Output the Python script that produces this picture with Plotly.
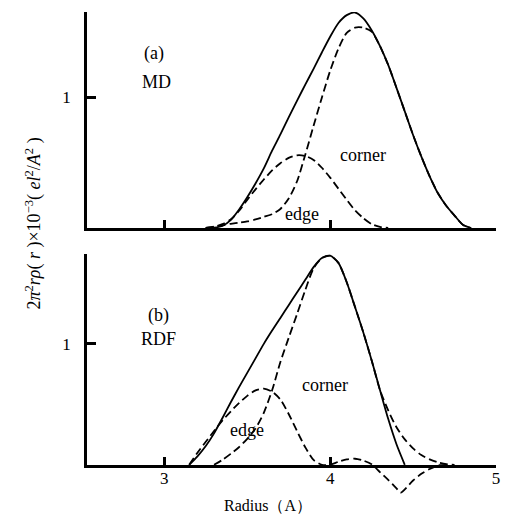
import plotly.graph_objects as go

# ---------------- data ----------------
X_TICKS = [3, 4, 5]
Y_TICKS = [1]

# (a) MD
md_total_x = [3.25, 3.30, 3.35, 3.40, 3.45, 3.50, 3.55, 3.60, 3.65, 3.70, 3.75, 3.80, 3.85, 3.90, 3.95, 4.00,
              4.05, 4.10, 4.15, 4.20, 4.25, 4.30, 4.35, 4.40, 4.45, 4.50, 4.55, 4.60, 4.65, 4.70, 4.75, 4.80, 4.85]
md_total_y = [0.0, 0.003, 0.015, 0.06, 0.14, 0.235, 0.34, 0.455, 0.59, 0.715, 0.845, 0.97, 1.095, 1.215, 1.34, 1.46,
              1.565, 1.625, 1.645, 1.60, 1.51, 1.39, 1.245, 1.07, 0.89, 0.71, 0.545, 0.395, 0.265, 0.17, 0.095, 0.025, 0.0]

md_corner_x = [3.25, 3.30, 3.35, 3.40, 3.45, 3.50, 3.55, 3.60, 3.65, 3.70, 3.75, 3.80, 3.85, 3.90, 3.95, 4.00,
               4.05, 4.10, 4.15, 4.20, 4.25, 4.30, 4.35, 4.40, 4.45, 4.50, 4.55, 4.60, 4.65, 4.70, 4.75, 4.80, 4.85]
md_corner_y = [0.0, 0.008, 0.02, 0.032, 0.04, 0.05, 0.065, 0.085, 0.105, 0.145, 0.225, 0.355, 0.56, 0.78, 0.995, 1.2,
               1.37, 1.49, 1.53, 1.53, 1.50, 1.39, 1.245, 1.07, 0.89, 0.71, 0.545, 0.395, 0.265, 0.17, 0.095, 0.025, 0.0]

md_edge_x = [3.25, 3.30, 3.35, 3.40, 3.45, 3.50, 3.55, 3.60, 3.65, 3.70, 3.75, 3.80, 3.85, 3.90, 3.95, 4.00,
             4.05, 4.10, 4.15, 4.20, 4.25, 4.30, 4.35]
md_edge_y = [0.0, 0.01, 0.03, 0.065, 0.13, 0.215, 0.295, 0.37, 0.44, 0.495, 0.535, 0.555, 0.55, 0.52, 0.46, 0.385,
             0.30, 0.215, 0.135, 0.075, 0.03, 0.008, 0.0]

# (b) RDF
rdf_total_x = [3.15, 3.20, 3.25, 3.30, 3.35, 3.40, 3.45, 3.50, 3.55, 3.60, 3.65, 3.70, 3.75, 3.80, 3.85, 3.90,
               3.95, 4.00, 4.05, 4.10, 4.15, 4.20, 4.25, 4.30, 4.35, 4.40, 4.45]
rdf_total_y = [0.0, 0.07, 0.155, 0.26, 0.385, 0.515, 0.64, 0.76, 0.88, 1.0, 1.11, 1.215, 1.32, 1.425, 1.53, 1.635,
               1.71, 1.73, 1.67, 1.51, 1.305, 1.095, 0.865, 0.62, 0.38, 0.17, 0.0]

rdf_corner_x = [3.30, 3.35, 3.40, 3.45, 3.50, 3.55, 3.60, 3.65, 3.70, 3.75, 3.80, 3.85, 3.90, 3.95, 4.00,
                4.05, 4.10, 4.15, 4.20, 4.25, 4.30, 4.35, 4.40, 4.45, 4.50, 4.55, 4.60, 4.65, 4.70, 4.75]
rdf_corner_y = [0.0, 0.04, 0.09, 0.145, 0.215, 0.30, 0.43, 0.616, 0.85, 1.05, 1.245, 1.445, 1.625, 1.71, 1.73,
                1.67, 1.51, 1.305, 1.095, 0.865, 0.62, 0.45, 0.31, 0.21, 0.135, 0.08, 0.045, 0.02, 0.005, 0.0]

rdf_edge_x = [3.15, 3.20, 3.25, 3.30, 3.35, 3.40, 3.45, 3.50, 3.55, 3.60, 3.65, 3.70, 3.75, 3.80, 3.85, 3.90,
              3.95, 4.00, 4.05, 4.10, 4.15, 4.20, 4.25, 4.30, 4.35, 4.40, 4.425, 4.50, 4.55, 4.60, 4.65, 4.70]
rdf_edge_y = [0.0, 0.10, 0.19, 0.28, 0.365, 0.44, 0.51, 0.57, 0.615, 0.63, 0.605, 0.54, 0.42, 0.28, 0.145, 0.04,
              0.0, 0.0, 0.025, 0.045, 0.05, 0.035, 0.005, -0.06, -0.125, -0.195, -0.23, -0.13, -0.075, -0.035, -0.005, 0.0]

# ---------------- layout geometry ----------------
W, H = 511, 514
ML, MR, MT, MB = 87, 11, 12, 19
PW, PH = W - ML - MR, H - MT - MB


def fx(px):
    return (px - ML) / PW


def fy(py):
    return (H - MB - py) / PH


X_RANGE = [2.534, 5.0]
TOP_RANGE = [0, 1.649]
BOT_RANGE = [-0.25, 1.742]
BOT_TOP_PX = 254.2

FONT = "Liberation Serif"
BLACK = "black"

fig = go.Figure()

solid = dict(color=BLACK, width=1.8, shape="spline", smoothing=0.7)
dashed = dict(color=BLACK, width=1.8, shape="spline", smoothing=0.7, dash="8px,4px")

fig.add_trace(go.Scatter(x=md_total_x, y=md_total_y, mode="lines", line=solid, xaxis="x", yaxis="y"))
fig.add_trace(go.Scatter(x=md_corner_x, y=md_corner_y, mode="lines", line=dashed, xaxis="x", yaxis="y"))
fig.add_trace(go.Scatter(x=md_edge_x, y=md_edge_y, mode="lines", line=dashed, xaxis="x", yaxis="y"))

fig.add_trace(go.Scatter(x=rdf_total_x, y=rdf_total_y, mode="lines", line=solid, xaxis="x2", yaxis="y2"))
fig.add_trace(go.Scatter(x=rdf_corner_x, y=rdf_corner_y, mode="lines", line=dashed, xaxis="x2", yaxis="y2"))
fig.add_trace(go.Scatter(x=rdf_edge_x, y=rdf_edge_y, mode="lines", line=dashed, xaxis="x2", yaxis="y2"))

# empty trace so that the baseline axes (x3/y3) of panel (b) get drawn
fig.add_trace(go.Scatter(x=[None], y=[None], mode="lines", xaxis="x3", yaxis="y3", hoverinfo="skip"))


def axis(**kw):
    d = dict(showline=True, linecolor=BLACK, linewidth=2.5, showgrid=False, zeroline=False,
             ticks="inside", tickcolor=BLACK, tickwidth=2.5)
    d.update(kw)
    return d


fig.update_layout(
    width=W, height=H,
    margin=dict(l=ML, r=MR, t=MT, b=MB),
    paper_bgcolor="white", plot_bgcolor="rgba(0,0,0,0)",
    showlegend=False,
    font=dict(family=FONT, color=BLACK, size=17),
    xaxis=axis(domain=[0, 1], anchor="y", range=X_RANGE, tickvals=X_TICKS, ticklen=8,
               showticklabels=False),
    yaxis=axis(domain=[fy(228), 1.0], anchor="x", range=TOP_RANGE, tickvals=Y_TICKS, ticklen=9,
               ticklabelstandoff=10, tickfont=dict(size=17)),
    xaxis2=dict(domain=[0, 1], anchor="y2", range=X_RANGE, visible=False),
    yaxis2=dict(domain=[0, fy(BOT_TOP_PX)], anchor="x2", range=BOT_RANGE, visible=False),
    xaxis3=axis(domain=[0, 1], anchor="y3", range=X_RANGE, tickvals=X_TICKS, ticklen=8,
                ticklabelstandoff=-4, tickfont=dict(size=17)),
    yaxis3=axis(domain=[fy(465), fy(BOT_TOP_PX)], anchor="x3", range=[0, BOT_RANGE[1]], tickvals=Y_TICKS,
                ticklen=9, ticklabelstandoff=10, tickfont=dict(size=17)),
)

labels = [
    ("(a)", 155, 53), ("MD", 157, 82), ("corner", 366, 155), ("edge", 304, 214),
    ("(b)", 159, 315), ("RDF", 159, 339), ("corner", 327, 385), ("edge", 249, 430),
]
for txt, px, py in labels:
    fig.add_annotation(text=txt, x=fx(px), y=fy(py), xref="paper", yref="paper",
                       showarrow=False, font=dict(family=FONT, size=18, color=BLACK),
                       xanchor="center", yanchor="middle")

fig.add_annotation(text="Radius（A）", x=fx(270), y=fy(505), xref="paper", yref="paper",
                   showarrow=False, font=dict(family=FONT, size=16, color=BLACK),
                   xanchor="center", yanchor="middle")

fig.add_annotation(
    text="2<i>π</i><sup>2</sup><i>rρ</i>( <i>r</i> )×10<sup>−3</sup>( <i>el</i><sup>2</sup>/<i>A</i><sup>2</sup> )",
    x=fx(33), y=fy(224), xref="paper", yref="paper", textangle=-90,
    showarrow=False, font=dict(family=FONT, size=18, color=BLACK),
    xanchor="center", yanchor="middle")

fig.write_html("out.html")
